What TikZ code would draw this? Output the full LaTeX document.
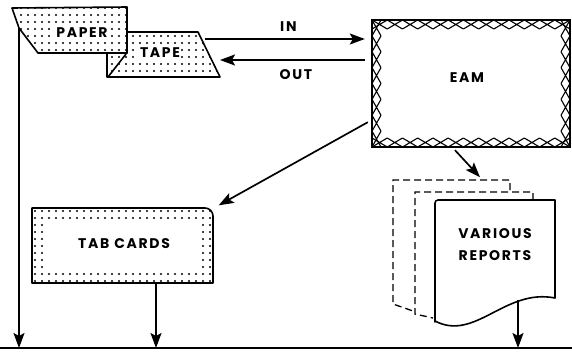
\documentclass[tikz,border=0pt]{standalone}
\usepackage{fontspec}
\newfontfamily\labelfont[LetterSpace=12]{Poppins}
\usetikzlibrary{arrows.meta,patterns.meta}

\tikzset{
  lbl/.style={font=\labelfont\bfseries\fontsize{14}{22}\selectfont},
  arr/.style={line width=1.7pt,-{Stealth[length=15pt,width=11pt,inset=3pt]}},
  outline/.style={line width=1.6pt,line join=round},
  dotfill/.style={pattern={Dots[distance=7pt,radius=1.1pt]}},
  xline/.style={line width=1.1pt},
  sheet/.style={line width=1.3pt,dash pattern=on 7pt off 4pt},
}

\begin{document}
\begin{tikzpicture}[x=1pt,y=-1pt]
\useasboundingbox (0,0) rectangle (572,351);

% paper tape
\draw[outline,dotfill] (127,32) -- (198,32) -- (220,77) -- (107,77) -- (107,53) -- (127,53) -- cycle;
\draw[outline] (108,77) -- (126,54);
\draw[outline,dotfill] (12,8) -- (127,7) -- (127,53) -- (38,53) -- (19,28) -- cycle;
\node[lbl,fill=white,inner sep=1pt] (paper) at (82,33) {PAPER};
\node[lbl,fill=white,inner sep=1pt] (tape) at (160,53) {TAPE};

% EAM
\draw[line width=2.4pt] (372,20) rectangle (570,147);
\foreach \i in {0,...,12}{
  \draw[xline] ({372+\i*198/13},20) -- ({372+(\i+1)*198/13},29) ({372+\i*198/13},29) -- ({372+(\i+1)*198/13},20);
  \draw[xline] ({372+\i*198/13},147) -- ({372+(\i+1)*198/13},138) ({372+\i*198/13},138) -- ({372+(\i+1)*198/13},147);
}
\foreach \i in {0,...,7}{
  \draw[xline] (372,{20+\i*127/8}) -- (381,{20+(\i+1)*127/8}) (381,{20+\i*127/8}) -- (372,{20+(\i+1)*127/8});
  \draw[xline] (570,{20+\i*127/8}) -- (561,{20+(\i+1)*127/8}) (561,{20+\i*127/8}) -- (570,{20+(\i+1)*127/8});
}
\node[minimum width=198pt,minimum height=127pt,inner sep=0pt,
  label={[lbl,xshift=-4pt,yshift=5.5pt]center:EAM}] (eam) at (471,83.5) {};

% tab cards
\draw[outline,dotfill] (32,283) -- (32,208) [rounded corners=8pt] -- (213,208) [sharp corners] -- (213,283) -- cycle;
\fill[white] (45,222) rectangle (200,268);
\node[lbl,minimum width=181pt,minimum height=75pt,inner sep=0pt] (tab) at (124,244) {TAB\hspace{5pt}CARDS};

% reports
\draw[sheet] (510,190) -- (510,180) -- (393,180) -- (393,304) -- (413,311);
\draw[sheet] (533,200) -- (533,192) -- (415,192) -- (415,314) -- (433,318);
\draw[outline,fill=white] (435,322) [rounded corners=3pt] -- (435,200) [sharp corners] -- (555,200) -- (555,298)
  .. controls (505,288) and (475,342) .. (435,321) -- cycle;
\node[lbl,align=center] (reports) at (495,245) {VARIOUS\\REPORTS};

% base line and flow
\coordinate (baseL) at (0,348);
\coordinate (baseR) at (572,348);
\coordinate (paperfoot) at (19,28);
\coordinate (inA) at (205,39);
\coordinate (outA) at (220,60);
\coordinate (rfoot) at (518,300);
\draw[line width=1.6pt] (baseL) -- (baseR);

\draw[arr,shorten >=7pt] (inA) -- (inA -| eam.west) node[lbl,midway,above=3pt] (inlbl) {IN};
\draw[arr,shorten <=7pt] (outA -| eam.west) -- (outA) node[lbl,midway,below=5pt] (outlbl) {OUT};
\draw[arr] (paperfoot) -- (paperfoot |- baseL);
\draw[arr] ([shift={(-4pt,25pt)}]eam.south west) -- ([shift={(4pt,1pt)}]tab.north east);
\draw[arr] ([shift={(-16pt,-3pt)}]eam.south) -- ++(25,27);
\draw[arr] ([xshift=32pt]tab.south) -- ([xshift=32pt]tab.south |- baseL);
\draw[arr] (rfoot) -- (rfoot |- baseL);
\end{tikzpicture}
\end{document}
